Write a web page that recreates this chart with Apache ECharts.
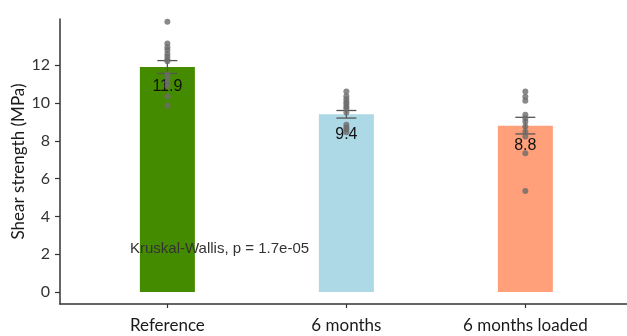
<!DOCTYPE html>
<html>
<head>
<meta charset="utf-8">
<script src="https://cdn.jsdelivr.net/npm/echarts@6/dist/echarts.min.js"></script>
<style>
  html, body { margin: 0; padding: 0; background: #fff; }
  #chart { width: 627px; height: 336px; }
</style>
</head>
<body>
<div id="chart"></div>
<script>
// Groups and group means (bar heights, also printed on the bars)
const categories = ['Reference', '6 months', '6 months loaded'];
const meanValues = [11.9, 9.4, 8.8];
// Standard errors for the error bars
const seValues = [0.34, 0.2, 0.44];
// Individual specimens per group (MPa)
const referencePoints = [14.3, 13.15, 12.95, 12.8, 12.6, 12.45, 12.3, 12.2, 11.5, 11.3, 11.1, 10.9, 10.35, 9.85];
const sixMonthPoints = [10.6, 10.35, 10.2, 10.05, 9.95, 9.8, 9.7, 9.5, 8.85, 8.7, 8.6, 8.45];
const sixMonthLoadedPoints = [10.6, 10.33, 10.12, 9.37, 9.19, 9.01, 8.75, 8.48, 8.22, 7.34, 5.34];
const yTicks = [0, 2, 4, 6, 8, 10, 12];
const testNote = 'Kruskal-Wallis, p = 1.7e-05';

const groupPoints = [referencePoints, sixMonthPoints, sixMonthLoadedPoints];
const barColors = ['#458B00', '#ADD8E6', '#FFA07A'];
const pointColor = '#6b6b6b';
const axisFont = 'Lato, "Open Sans", sans-serif';
const textFont = '"Liberation Sans", Arial, sans-serif';

const positions = categories.map((c, i) => i + 1);

const barData = categories.map((c, i) => ({
  value: [positions[i], meanValues[i]],
  itemStyle: { color: barColors[i] }
}));

const errorData = categories.map((c, i) => [
  positions[i], meanValues[i] - seValues[i], meanValues[i] + seValues[i]
]);

const pointData = [];
groupPoints.forEach((pts, i) => {
  pts.forEach(v => pointData.push([positions[i], v]));
});

const chart = echarts.init(document.getElementById('chart'), null, { renderer: 'canvas' });

chart.setOption({
  animation: false,
  backgroundColor: '#ffffff',
  grid: { left: 60, right: 0, top: 19, bottom: 32, containLabel: false, outerBoundsMode: 'none' },
  xAxis: {
    type: 'value',
    min: 0.4,
    max: 3.568,
    splitLine: { show: false },
    axisLine: { show: true, onZero: false, lineStyle: { color: '#333', width: 1.5 } },
    axisTick: { show: true, customValues: positions, length: 4, lineStyle: { color: '#333', width: 1.2 } },
    axisLabel: {
      customValues: positions,
      formatter: v => categories[Math.round(v) - 1],
      margin: 13,
      fontSize: 17,
      fontFamily: axisFont,
      color: '#1a1a1a'
    }
  },
  yAxis: {
    type: 'value',
    min: -0.635,
    max: 14.44,
    name: 'Shear strength (MPa)',
    nameLocation: 'middle',
    nameGap: 33,
    nameMoveOverlap: false,
    nameTextStyle: { fontSize: 17, fontFamily: axisFont, color: '#1a1a1a' },
    splitLine: { show: false },
    axisLine: { show: true, onZero: false, lineStyle: { color: '#333', width: 1.5 } },
    axisTick: { show: true, customValues: yTicks, length: 5, lineStyle: { color: '#333', width: 1.2 } },
    axisLabel: {
      customValues: yTicks,
      margin: 10,
      fontSize: 16,
      fontFamily: axisFont,
      color: '#333'
    }
  },
  series: [
    {
      type: 'bar',
      data: barData,
      barWidth: 55,
      z: 2,
      label: {
        show: true,
        position: 'insideTop',
        distance: 12,
        formatter: p => meanValues[p.dataIndex].toFixed(1),
        fontSize: 16,
        fontFamily: textFont,
        color: '#111'
      }
    },
    {
      type: 'custom',
      z: 3,
      data: errorData,
      renderItem: (params, api) => {
        const x = api.value(0);
        const lo = api.coord([x, api.value(1)]);
        const hi = api.coord([x, api.value(2)]);
        const half = 10;
        const style = { stroke: '#555', lineWidth: 1.3 };
        return {
          type: 'group',
          children: [
            { type: 'line', shape: { x1: lo[0], y1: lo[1], x2: hi[0], y2: hi[1] }, style },
            { type: 'line', shape: { x1: lo[0] - half, y1: lo[1], x2: lo[0] + half, y2: lo[1] }, style },
            { type: 'line', shape: { x1: hi[0] - half, y1: hi[1], x2: hi[0] + half, y2: hi[1] }, style }
          ]
        };
      }
    },
    {
      type: 'scatter',
      z: 4,
      data: pointData,
      symbolSize: 6,
      itemStyle: { color: pointColor }
    }
  ],
  graphic: [
    {
      type: 'text',
      left: 130,
      top: 241,
      z: 10,
      style: {
        text: testNote,
        fontSize: 15,
        fontFamily: textFont,
        fill: '#333'
      }
    }
  ]
});
</script>
</body>
</html>
